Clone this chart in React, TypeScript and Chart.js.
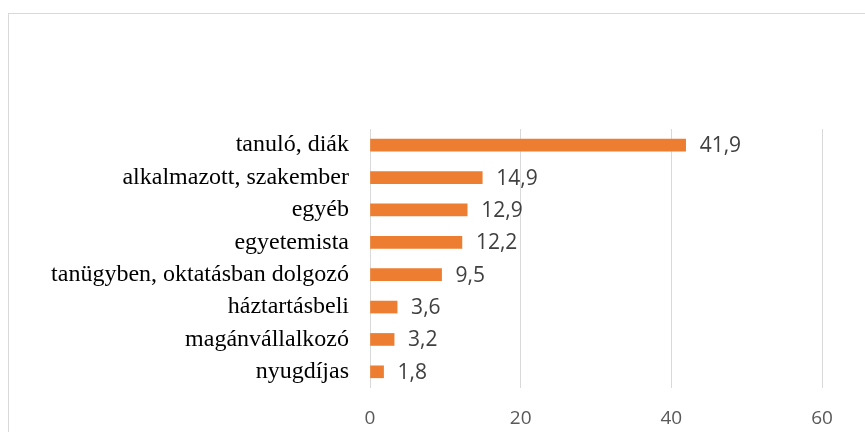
import React, { useEffect, useRef } from "react";
import { Chart, registerables } from "chart.js";

Chart.register(...registerables);

const categories = [
  "tanuló, diák",
  "alkalmazott, szakember",
  "egyéb",
  "egyetemista",
  "tanügyben, oktatásban dolgozó",
  "háztartásbeli",
  "magánvállalkozó",
  "nyugdíjas",
];
const values = [41.9, 14.9, 12.9, 12.2, 9.5, 3.6, 3.2, 1.8];
const xMin = 0;
const xMax = 60;
const xStep = 20;

const frame = {
  id: "frame",
  beforeDraw(chart: any) {
    const ctx = chart.ctx;
    ctx.save();
    ctx.fillStyle = "#ffffff";
    ctx.fillRect(0, 0, chart.width, chart.height);
    ctx.strokeStyle = "#d9d9d9";
    ctx.lineWidth = 1;
    ctx.strokeRect(8.5, 13.5, 1000, 600);
    ctx.restore();
  },
};

const dataLabels = {
  id: "dataLabels",
  afterDatasetsDraw(chart: any) {
    const ctx = chart.ctx;
    const meta = chart.getDatasetMeta(0);
    ctx.save();
    ctx.font = "21px 'Open Sans', 'Liberation Sans', sans-serif";
    ctx.fillStyle = "#404040";
    ctx.textAlign = "left";
    ctx.textBaseline = "middle";
    meta.data.forEach((el: any, i: number) => {
      const v = chart.data.datasets[0].data[i];
      ctx.fillText(String(v).replace(".", ","), el.x + 14, el.y + 1);
    });
    ctx.restore();
  },
};

export default function App() {
  const ref = useRef<HTMLCanvasElement>(null);
  useEffect(() => {
    if (!ref.current) return;
    const chart = new Chart(ref.current, {
      type: "bar",
      data: {
        labels: categories,
        datasets: [
          {
            data: values,
            backgroundColor: "#ED7D31",
            borderWidth: 0,
            barThickness: 12,
          },
        ],
      },
      options: {
        indexAxis: "y",
        animation: false,
        responsive: false,
        maintainAspectRatio: false,
        layout: { padding: { top: 129, right: 43, left: 0, bottom: 0 } },
        plugins: {
          legend: { display: false },
          tooltip: { enabled: false },
        },
        scales: {
          x: {
            min: xMin,
            max: xMax,
            grid: { color: "#d9d9d9", lineWidth: 1, drawTicks: false },
            border: { display: false },
            ticks: {
              stepSize: xStep,
              padding: 19,
              color: "#595959",
              font: { family: "Open Sans, Liberation Sans, sans-serif", size: 19 },
            },
            afterFit(scale: any) {
              scale.height = 44;
            },
          },
          y: {
            grid: { display: false, drawTicks: false },
            border: { display: false },
            ticks: {
              padding: 21,
              color: "#000000",
              autoSkip: false,
              font: { family: "Liberation Serif, Times New Roman, Times, serif", size: 24 },
            },
            afterFit(scale: any) {
              scale.width = 370;
            },
          },
        },
      },
      plugins: [frame, dataLabels],
    });
    return () => chart.destroy();
  }, []);
  return (
    <div style={{ position: "fixed", left: 0, top: 0, width: 865, height: 432 }}>
      <canvas ref={ref} width={865} height={432} style={{ display: "block" }} />
    </div>
  );
}
